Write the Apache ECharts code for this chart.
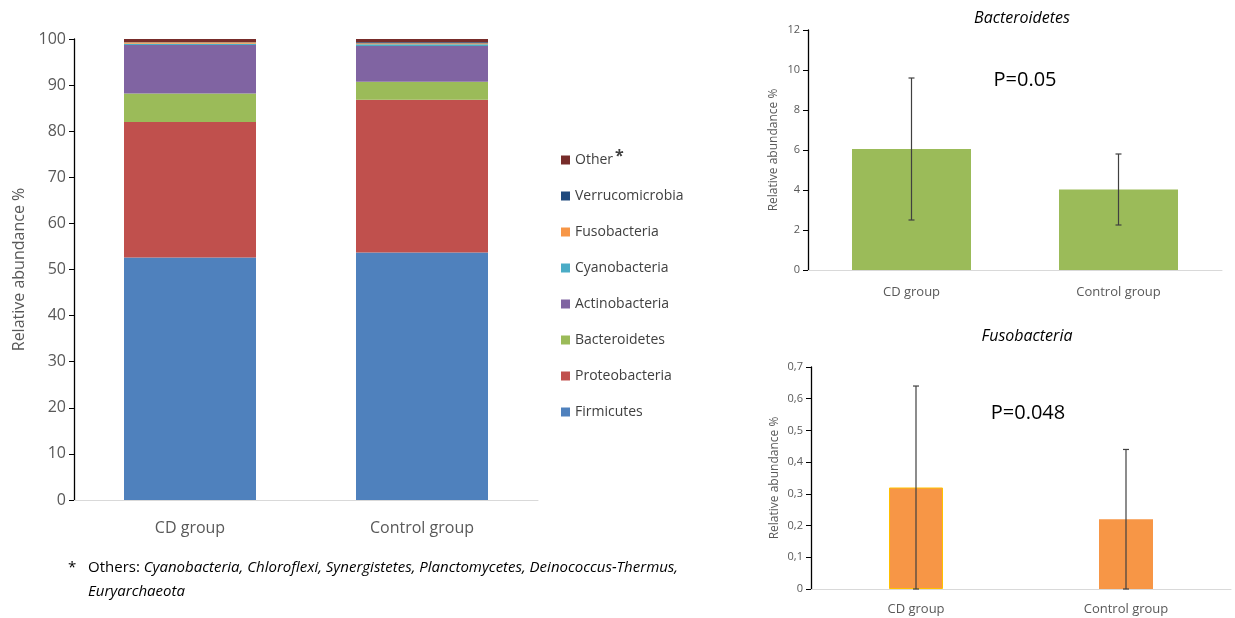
<!DOCTYPE html>
<html>
<head>
<meta charset="utf-8">
<script src="https://cdn.jsdelivr.net/npm/echarts@6/dist/echarts.min.js"></script>
<style>
html,body{margin:0;padding:0;background:#fff;}
#c{width:1235px;height:618px;}
</style>
</head>
<body>
<div id="c"></div>
<script>
// ---- Data ----
const groups = ['CD group', 'Control group'];
const phyla = ['Firmicutes', 'Proteobacteria', 'Bacteroidetes', 'Actinobacteria', 'Cyanobacteria', 'Fusobacteria', 'Verrucomicrobia', 'Other'];
const firmicutes      = [52.6, 53.7];
const proteobacteria  = [29.4, 33.1];
const bacteroidetes   = [6.2, 3.9];
const actinobacteria  = [10.5, 7.8];
const cyanobacteria   = [0.25, 0.35];
const fusobacteria    = [0.35, 0.22];
const verrucomicrobia = [0.05, 0.2];
const other           = [0.65, 0.73];
const mainTicks = [0, 10, 20, 30, 40, 50, 60, 70, 80, 90, 100];

const bactMean = [6.05, 4.03];
const bactLow  = [2.5, 2.25];
const bactHigh = [9.6, 5.8];
const bactP = 'P=0.05';

const fusoMean = [0.32, 0.22];
const fusoLow  = [0, 0];
const fusoHigh = [0.64, 0.44];
const fusoP = 'P=0.048';

const footLine1Lead = 'Others: ';
const footLine1 = 'Cyanobacteria, Chloroflexi, Synergistetes, Planctomycetes, Deinococcus-Thermus,';
const footLine2 = 'Euryarchaeota';

// ---- Styles ----
const colors = {
  Firmicutes: '#4F81BD', Proteobacteria: '#C0504D', Bacteroidetes: '#9BBB59',
  Actinobacteria: '#8064A2', Cyanobacteria: '#4BACC6', Fusobacteria: '#F79646',
  Verrucomicrobia: '#1F497D', Other: '#772C2A'
};
const stackData = [firmicutes, proteobacteria, bacteroidetes, actinobacteria, cyanobacteria, fusobacteria, verrucomicrobia, other];
const narrow = "'Liberation Sans Narrow', 'Open Sans', sans-serif";
const sans = "'Open Sans', sans-serif";

const chart = echarts.init(document.getElementById('c'));

function errRender(params, api) {
  const x = api.value(0), lo = api.value(1), hi = api.value(2);
  const pLo = api.coord([x, lo]), pHi = api.coord([x, hi]);
  const cap = 3;
  const st = { stroke: '#404040', lineWidth: 1.2 };
  return {
    type: 'group',
    children: [
      { type: 'line', shape: { x1: pLo[0], y1: pLo[1], x2: pHi[0], y2: pHi[1] }, style: st },
      { type: 'line', shape: { x1: pHi[0] - cap, y1: pHi[1], x2: pHi[0] + cap, y2: pHi[1] }, style: st },
      { type: 'line', shape: { x1: pLo[0] - cap, y1: pLo[1], x2: pLo[0] + cap, y2: pLo[1] }, style: st }
    ]
  };
}

const series = phyla.map((p, i) => ({
  name: p, type: 'bar', stack: 'total', xAxisIndex: 0, yAxisIndex: 0,
  barWidth: 132, data: stackData[i], itemStyle: { color: colors[p] }
}));

series.push({
  name: 'bactBar', type: 'bar', xAxisIndex: 1, yAxisIndex: 1, barWidth: 119,
  data: bactMean, itemStyle: { color: '#9BBB59' }
});
series.push({
  name: 'bactErr', type: 'custom', xAxisIndex: 1, yAxisIndex: 1, z: 5,
  renderItem: errRender,
  data: groups.map((g, i) => [i, bactLow[i], bactHigh[i]])
});
series.push({
  name: 'fusoBar', type: 'bar', xAxisIndex: 2, yAxisIndex: 2, barWidth: 54,
  data: [
    { value: fusoMean[0], itemStyle: { color: '#F79646', borderColor: '#FFC000', borderWidth: 1 } },
    { value: fusoMean[1], itemStyle: { color: '#F79646' } }
  ]
});
series.push({
  name: 'fusoErr', type: 'custom', xAxisIndex: 2, yAxisIndex: 2, z: 5,
  renderItem: errRender,
  data: groups.map((g, i) => [i, fusoLow[i], fusoHigh[i]])
});

function yAxisCommon(gi, max, interval, fs, fmt, nameSize, nameGap) {
  return {
    type: 'value', gridIndex: gi, min: 0, max: max, interval: interval,
    name: 'Relative abundance %', nameLocation: 'middle', nameGap: nameGap,
    nameTextStyle: { color: '#595959', fontSize: nameSize, fontFamily: sans },
    axisLine: { show: true, lineStyle: { color: '#000', width: 1.3 } },
    axisTick: { show: true, inside: false, length: 5, lineStyle: { color: '#000' } },
    splitLine: { show: false },
    axisLabel: { color: '#595959', fontSize: fs, fontFamily: sans, margin: 8, formatter: fmt }
  };
}
function xAxisCommon(gi, fs, margin) {
  return {
    type: 'category', gridIndex: gi, data: groups,
    axisLine: { show: true, lineStyle: { color: '#D9D9D9', width: 1 } },
    axisTick: { show: false },
    axisLabel: { color: '#595959', fontSize: fs, fontFamily: sans, margin: margin }
  };
}

chart.setOption({
  animation: false,
  backgroundColor: '#fff',
  grid: [
    { left: 74, top: 39, width: 464, height: 461 },
    { left: 808, top: 30, width: 414, height: 240 },
    { left: 811, top: 367, width: 420, height: 222 }
  ],
  xAxis: [ xAxisCommon(0, 16, 20), xAxisCommon(1, 13, 16), xAxisCommon(2, 13, 14) ],
  yAxis: [
    yAxisCommon(0, 100, 10, 16, v => String(v), 16, 47),
    yAxisCommon(1, 12, 2, 11, v => String(v), 12, 28),
    yAxisCommon(2, 0.7, 0.1, 11, v => (Math.round(v * 10) / 10).toString().replace('.', ','), 12, 30)
  ],
  legend: {
    orient: 'vertical', left: 556, top: 143, itemWidth: 9, itemHeight: 9, itemGap: 22,
    data: phyla.slice().reverse(),
    icon: 'rect',
    formatter: n => n === 'Other' ? '{n|Other}{s|*}' : '{n|' + n + '}',
    textStyle: {
      rich: {
        n: { color: '#404040', fontSize: 14, fontFamily: narrow },
        s: { color: '#404040', fontSize: 16, fontFamily: narrow, verticalAlign: 'top', padding: [0, 0, 8, 2], fontWeight: 'bold' }
      }
    }
  },
  graphic: [
    { type: 'text', x: 1022, y: 18, style: { text: 'Bacteroidetes', font: "italic 16px " + narrow, fill: '#000', textAlign: 'center', textVerticalAlign: 'middle' } },
    { type: 'text', x: 1025, y: 80, style: { text: bactP, font: "20px " + narrow, fill: '#000', textAlign: 'center', textVerticalAlign: 'middle' } },
    { type: 'text', x: 1027, y: 336, style: { text: 'Fusobacteria', font: "italic 16px " + narrow, fill: '#000', textAlign: 'center', textVerticalAlign: 'middle' } },
    { type: 'text', x: 1028, y: 413, style: { text: fusoP, font: "20px " + narrow, fill: '#000', textAlign: 'center', textVerticalAlign: 'middle' } },
    { type: 'text', x: 68, y: 568, style: { text: '*', font: "15px " + narrow, fill: '#000', textVerticalAlign: 'middle' } },
    { type: 'text', x: 88, y: 568, style: {
        text: '{n|' + footLine1Lead + '}{i|' + footLine1 + '}',
        textVerticalAlign: 'middle',
        rich: { n: { font: "15px " + narrow, fill: '#000' }, i: { font: "italic 15px " + narrow, fill: '#000' } }
      } },
    { type: 'text', x: 88, y: 592, style: { text: footLine2, font: "italic 15px " + narrow, fill: '#000', textVerticalAlign: 'middle' } }
  ],
  series: series
});
</script>
</body>
</html>
